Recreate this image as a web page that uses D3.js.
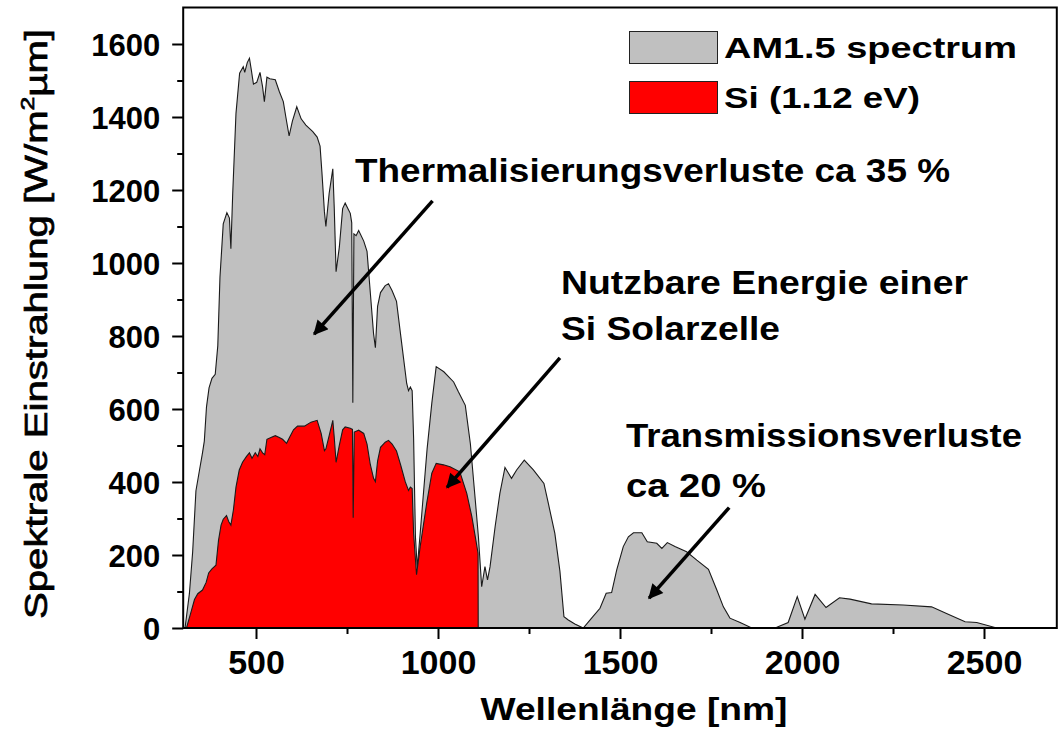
<!DOCTYPE html>
<html>
<head>
<meta charset="utf-8">
<script src="https://cdn.jsdelivr.net/npm/d3@7"></script>
<style>
  html, body { margin: 0; padding: 0; background: #fff; }
  svg { display: block; font-family: "Liberation Sans", Arial, sans-serif; }
</style>
</head>
<body>
<svg id="chart" width="1059" height="731"></svg>
<script>
// AM1.5 global spectral irradiance [W/(m² µm)] versus wavelength [nm]
const amWavelength = [300,305,317,326,335,344,353,358,364,371,379,388,395,401,410,420,427,431,436,445,455,465,469,476,482,487,493,502,511,518,523,530,538,553,564,575,582,591,600,612,624,637,656,668,676,681,688,692,701,711,715,720,729,738,745,752,759,763,766,769,775,782,796,805,814,823,828,834,842,855,864,874,886,897,910,914,919,924,929,933,938,943,951,970,983,995,1016,1043,1056,1075,1089,1103,1111,1120,1129,1136,1143,1157,1170,1184,1202,1216,1237,1262,1291,1303,1321,1335,1346,1358,1376,1399,1422,1445,1462,1477,1491,1509,1523,1537,1560,1575,1601,1615,1630,1651,1683,1711,1743,1766,1784,1802,1830,1862,1926,1962,1987,2008,2036,2066,2103,2132,2191,2278,2356,2397,2448,2480,2535,2700];
const amIrradiance = [0,0,94,209,376,428,480,512,606,658,684,695,773,961,1107,1138,1123,1039,1190,1410,1520,1538,1522,1549,1561,1530,1490,1495,1522,1483,1442,1509,1505,1502,1470,1442,1400,1348,1389,1428,1395,1378,1360,1345,1320,1250,1140,1100,1191,1258,1150,976,1044,1149,1164,1150,1136,1110,617,1080,1075,1089,1060,1032,919,806,768,881,919,938,943,924,895,806,702,670,650,660,650,520,250,165,259,490,616,716,702,674,647,610,504,344,250,113,168,132,168,278,369,440,410,433,460,433,396,342,259,155,31,22,11,0,27,54,95,97,159,223,250,261,261,236,232,218,234,223,209,186,161,104,58,27,15,0,0,15,86,24,92,56,83,79,66,63,58,40,17,15,0,0];

// Part of the spectrum usable by a silicon cell (band gap 1.12 eV)
const siWavelength = [309,321,331,340,353,363,370,379,390,397,404,410,419,425,431,438,445,454,463,474,482,489,498,505,511,518,524,530,541,553,564,573,584,592,603,614,633,651,668,679,688,692,701,711,715,720,729,738,745,759,765,767,770,782,796,805,814,823,828,834,842,855,864,874,886,897,910,919,924,929,933,941,951,969,983,995,1015,1033,1060,1079,1093,1104,1110,1110.5];
const siIrradiance = [0,42,78,94,104,125,151,162,172,240,282,298,308,292,282,324,386,433,454,470,480,465,480,470,491,480,475,517,522,527,522,517,506,522,543,553,553,564,569,533,486,491,527,569,522,454,501,543,551,547,544,302,537,542,533,504,448,410,401,457,495,509,514,504,485,448,401,377,386,382,259,146,223,342,424,451,447,442,428,369,305,241,205,0];

const xTicks = [500, 1000, 1500, 2000, 2500];
const xMinorTicks = [750, 1250, 1750, 2250];
const yTicks = [0, 200, 400, 600, 800, 1000, 1200, 1400, 1600];
const yMinorTicks = [100, 300, 500, 700, 900, 1100, 1300, 1500];

const seriesNames = ["AM1.5 spectrum", "Si (1.12 eV)"];
const seriesColors = ["#c0c0c0", "#ff0000"];

const annotationLines = [
  { text: "Thermalisierungsverluste ca 35 %", x: 355, y: 182, w: 595 },
  { text: "Nutzbare Energie einer", x: 561, y: 294, w: 407 },
  { text: "Si Solarzelle", x: 561, y: 340, w: 219 },
  { text: "Transmissionsverluste", x: 626, y: 447, w: 396 },
  { text: "ca 20 %", x: 626, y: 497, w: 140 }
];
// arrows: start point and tip, in wavelength / irradiance units
const arrows = [
  { x1: 985, y1: 1170, x2: 660, y2: 805 },
  { x1: 1335, y1: 740, x2: 1025, y2: 385 },
  { x1: 1800, y1: 330, x2: 1580, y2: 82 }
];

const svg = d3.select("#chart");
const plotLeft = 183.2, plotRight = 1056.8, plotTop = 7.5, plotBottom = 628;
const x = d3.scaleLinear().domain([300, 2700]).range([plotLeft, plotRight]);
const y = d3.scaleLinear().domain([0, 1700]).range([plotBottom, plotTop]);

const amData = amWavelength.map((w, i) => [w, amIrradiance[i]]);
const siData = siWavelength.map((w, i) => [w, siIrradiance[i]]);

const area = d3.area().x(d => x(d[0])).y0(y(0)).y1(d => y(d[1]));
const line = d3.line().x(d => x(d[0])).y(d => y(d[1]));

svg.append("path").datum(amData).attr("d", area).attr("fill", seriesColors[0]);
svg.append("path").datum(amData).attr("d", line)
  .attr("fill", "none").attr("stroke", "#1a1a1a").attr("stroke-width", 1.1);
svg.append("path").datum(siData).attr("d", area).attr("fill", seriesColors[1]);
svg.append("path").datum(siData).attr("d", line)
  .attr("fill", "none").attr("stroke", "#1a1a1a").attr("stroke-width", 1.1);

// frame
svg.append("rect").attr("x", plotLeft).attr("y", plotTop)
  .attr("width", plotRight - plotLeft).attr("height", plotBottom - plotTop)
  .attr("fill", "none").attr("stroke", "#000").attr("stroke-width", 2);

// axes
const xAxis = svg.append("g").attr("transform", `translate(0,${plotBottom})`)
  .call(d3.axisBottom(x).tickValues(xTicks).tickSize(11).tickPadding(11).tickFormat(d3.format("d")));
const xMinor = svg.append("g").attr("transform", `translate(0,${plotBottom})`)
  .call(d3.axisBottom(x).tickValues(xMinorTicks).tickSize(6).tickFormat(""));
const yAxis = svg.append("g").attr("transform", `translate(${plotLeft},0)`)
  .call(d3.axisLeft(y).tickValues(yTicks).tickSize(11).tickPadding(12).tickFormat(d3.format("d")));
const yMinor = svg.append("g").attr("transform", `translate(${plotLeft},0)`)
  .call(d3.axisLeft(y).tickValues(yMinorTicks).tickSize(6).tickFormat(""));

[xAxis, xMinor, yAxis, yMinor].forEach(g => {
  g.select(".domain").remove();
  g.selectAll(".tick line").attr("stroke", "#000").attr("stroke-width", 2);
});
xAxis.selectAll(".tick text").attr("font-size", 34).attr("font-weight", "bold").attr("fill", "#000")
  .attr("dy", "0.71em");
yAxis.selectAll(".tick text").attr("font-size", 31).attr("font-weight", "bold").attr("fill", "#000")
  .attr("dy", "0.36em");

// stretch or squeeze a text element to a given width
function fitWidth(sel, width) {
  sel.attr("textLength", width).attr("lengthAdjust", "spacingAndGlyphs");
}

// axis titles
const xTitle = svg.append("text").attr("x", 634).attr("y", 720)
  .attr("text-anchor", "middle").attr("font-size", 32).attr("font-weight", "bold")
  .text("Wellenlänge [nm]");
fitWidth(xTitle, 307);

const yTitle = svg.append("text")
  .attr("transform", "translate(47,324) rotate(-90)")
  .attr("text-anchor", "middle").attr("font-size", 31)
  .attr("stroke", "#000").attr("stroke-width", 0.7);
yTitle.append("tspan").text("Spektrale Einstrahlung [W/m");
yTitle.append("tspan").attr("font-size", 19).attr("dy", -13).text("2");
yTitle.append("tspan").attr("dy", 13).text("µm]");
fitWidth(yTitle, 590);

// legend
const legend = svg.append("g");
seriesNames.forEach((name, i) => {
  legend.append("rect").attr("x", 629.5).attr("y", 31.5 + i * 50)
    .attr("width", 88).attr("height", 32)
    .attr("fill", seriesColors[i]).attr("stroke", "#222").attr("stroke-width", 1);
  const t = legend.append("text").attr("x", 724).attr("y", 58 + i * 50)
    .attr("font-size", 30).attr("font-weight", "bold").text(name);
  fitWidth(t, i === 0 ? 293 : 196);
});

// annotations
annotationLines.forEach(a => {
  const t = svg.append("text").attr("x", a.x).attr("y", a.y)
    .attr("font-size", 33).attr("font-weight", "bold").text(a.text);
  fitWidth(t, a.w);
});

// arrows with filled heads
svg.append("defs").append("marker").attr("id", "head")
  .attr("viewBox", "0 0 10 10").attr("refX", 9).attr("refY", 5)
  .attr("markerWidth", 5.5).attr("markerHeight", 4.2).attr("orient", "auto")
  .attr("markerUnits", "strokeWidth")
  .append("path").attr("d", "M0,0 L10,5 L0,10 Z").attr("fill", "#000");

arrows.forEach(a => {
  svg.append("line")
    .attr("x1", x(a.x1)).attr("y1", y(a.y1))
    .attr("x2", x(a.x2)).attr("y2", y(a.y2))
    .attr("stroke", "#000").attr("stroke-width", 3.5)
    .attr("marker-end", "url(#head)");
});
</script>
</body>
</html>
